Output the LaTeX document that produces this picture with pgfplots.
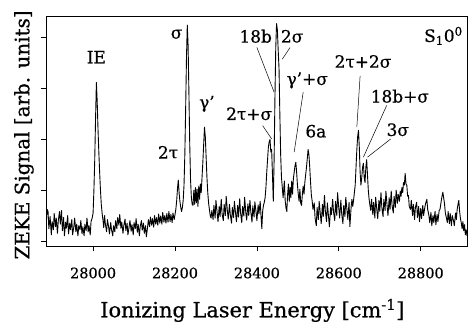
\documentclass[border=0pt]{standalone}
\usepackage{pgfplots}
\pgfplotsset{compat=1.18}
\usepackage{pgfplotstable}
\usepackage{fontspec}
\setmainfont{DejaVu Serif}[FakeBold=0.6]

% ZEKE spectrum: signal versus ionizing laser energy (cm^-1)
\pgfplotstableread{
x y
27886 0.42
27888 0.62
27890 0.58
27892 0.24
27895 0.48
27898 0.12
27900 0.38
27903 0.22
27905 0.54
27908 0.28
27910 0.45
27913 0.15
27915 0.40
27918 0.58
27920 0.33
27923 0.60
27925 0.20
27928 0.46
27930 0.10
27933 0.37
27935 0.25
27938 0.50
27940 0.14
27943 0.35
27945 0.22
27948 0.42
27950 0.12
27953 0.28
27955 0.45
27958 0.18
27960 0.33
27963 0.10
27965 0.30
27968 0.22
27970 0.40
27973 0.14
27975 0.28
27978 0.10
27980 0.33
27983 0.20
27985 0.45
27988 0.18
27990 0.30
27993 0.12
27995 0.38
27998 0.46
28000 0.55
28002 1.00
28004 1.60
28006 2.40
28008 3.12
28010 2.75
28012 2.20
28014 1.75
28016 1.35
28018 1.00
28020 0.72
28022 0.55
28024 0.42
28026 0.26
28028 0.50
28030 0.33
28033 0.18
28035 0.42
28038 0.27
28040 0.14
28043 0.36
28045 0.22
28048 0.10
28050 0.30
28053 0.18
28055 0.40
28058 0.24
28060 0.46
28063 0.31
28065 0.52
28068 0.25
28070 0.37
28073 0.15
28075 0.30
28078 0.43
28080 0.20
28083 0.35
28085 0.12
28088 0.28
28090 0.40
28093 0.19
28095 0.32
28098 0.12
28100 0.36
28103 0.24
28105 0.44
28108 0.17
28110 0.33
28113 0.10
28115 0.28
28118 0.40
28120 0.21
28123 0.35
28125 0.15
28128 0.30
28130 0.08
28133 0.27
28135 0.42
28138 0.28
28140 0.47
28143 0.31
28145 0.44
28148 0.27
28150 0.50
28153 0.33
28155 0.46
28158 0.31
28160 0.53
28163 0.35
28165 0.49
28168 0.33
28170 0.56
28173 0.37
28175 0.50
28178 0.35
28180 0.54
28183 0.37
28185 0.58
28188 0.38
28190 0.52
28193 0.36
28195 0.55
28198 0.42
28200 0.52
28202 0.62
28204 0.78
28206 1.02
28208 1.20
28210 0.95
28212 0.78
28214 0.66
28216 0.58
28218 0.66
28220 0.80
28222 1.10
28224 1.70
28226 2.60
28228 3.60
28230 4.25
28232 3.85
28234 2.90
28236 1.90
28238 1.20
28240 0.85
28242 0.72
28244 0.70
28246 1.00
28248 0.72
28250 1.05
28252 0.75
28254 1.02
28256 0.68
28258 1.08
28260 0.82
28262 1.12
28264 0.95
28266 1.25
28268 1.55
28270 1.90
28272 2.24
28274 2.05
28276 1.65
28278 1.25
28280 0.95
28282 0.75
28284 0.62
28286 0.50
28288 0.45
28290 0.60
28293 0.42
28295 0.70
28298 0.45
28300 0.80
28303 0.55
28305 0.38
28308 0.68
28310 0.48
28313 0.82
28315 0.53
28318 0.40
28320 0.72
28323 0.50
28325 0.88
28328 0.58
28330 0.43
28333 0.72
28335 0.52
28338 0.35
28340 0.66
28343 0.46
28345 0.78
28348 0.54
28350 0.38
28353 0.70
28355 0.47
28358 0.83
28360 0.56
28363 0.36
28365 0.68
28368 0.49
28370 0.86
28373 0.55
28375 0.41
28378 0.73
28380 0.50
28383 0.80
28385 0.58
28388 0.37
28390 0.69
28393 0.47
28395 0.77
28398 0.56
28400 0.40
28403 0.71
28405 0.53
28408 0.78
28410 0.50
28412 0.24
28414 0.58
28416 0.70
28418 0.76
28420 0.85
28422 1.05
28424 1.35
28426 1.60
28428 1.85
28430 1.95
28432 2.00
28434 1.75
28436 1.80
28438 1.30
28440 0.78
28442 1.60
28444 2.80
28446 3.80
28448 4.28
28450 4.15
28452 3.75
28454 3.40
28456 2.50
28458 1.70
28460 1.25
28462 1.05
28464 0.85
28467 1.18
28469 0.80
28471 0.65
28473 0.58
28475 0.92
28477 1.12
28479 0.78
28481 1.05
28483 0.85
28485 1.18
28487 0.92
28489 1.22
28491 1.35
28493 1.48
28495 1.55
28497 1.35
28499 1.10
28501 0.92
28503 0.78
28505 1.02
28507 0.74
28509 0.70
28511 0.92
28513 1.08
28515 0.92
28517 1.15
28519 1.30
28521 1.45
28523 1.62
28525 1.80
28527 1.70
28529 1.45
28531 1.15
28533 0.90
28535 0.78
28537 0.62
28540 0.75
28542 0.45
28545 0.30
28547 0.66
28550 0.42
28552 0.78
28555 0.52
28557 0.34
28560 0.72
28562 0.48
28565 0.90
28567 0.60
28570 0.38
28572 0.75
28575 0.47
28577 0.28
28580 0.66
28582 0.52
28585 0.82
28587 0.58
28590 0.40
28592 0.78
28595 0.50
28597 0.95
28600 0.64
28602 0.45
28605 0.80
28607 0.54
28610 0.34
28612 0.70
28615 0.48
28617 0.86
28620 0.60
28622 0.42
28625 0.76
28627 0.28
28630 0.66
28632 0.82
28634 0.68
28636 0.80
28638 0.95
28640 1.10
28642 1.45
28644 1.80
28646 2.05
28648 2.18
28650 1.85
28652 1.35
28654 1.10
28656 1.25
28658 1.45
28660 1.53
28662 1.25
28664 1.15
28666 1.45
28668 1.60
28670 1.30
28672 1.00
28674 0.82
28676 0.70
28678 0.60
28680 0.82
28683 0.52
28685 0.76
28688 0.45
28690 0.86
28693 0.60
28695 0.44
28698 0.80
28700 0.58
28703 0.95
28705 0.66
28708 0.48
28710 0.82
28713 0.60
28715 0.98
28718 0.68
28720 0.50
28723 0.85
28725 0.62
28728 0.98
28730 0.70
28733 0.55
28735 0.88
28738 0.66
28740 1.00
28743 0.74
28745 0.92
28748 0.78
28750 0.98
28752 0.88
28754 1.05
28756 0.95
28758 1.15
28760 1.10
28762 1.33
28764 1.12
28766 1.10
28768 0.88
28770 0.90
28772 0.68
28775 0.62
28777 0.80
28780 0.50
28782 0.72
28785 0.42
28787 0.66
28790 0.76
28792 0.46
28795 0.68
28797 0.38
28800 0.64
28802 0.44
28805 0.70
28807 0.50
28810 0.66
28812 0.74
28815 0.82
28817 0.62
28820 0.50
28822 0.36
28825 0.56
28827 0.30
28830 0.50
28832 0.36
28835 0.58
28837 0.32
28840 0.52
28842 0.38
28845 0.60
28847 0.62
28850 0.78
28852 0.88
28854 0.96
28856 0.85
28858 0.74
28860 0.56
28862 0.48
28865 0.36
28867 0.58
28870 0.34
28872 0.54
28875 0.30
28877 0.50
28880 0.40
28882 0.30
28885 0.55
28887 0.42
28889 0.62
28891 0.72
28893 0.80
28895 0.58
28897 0.44
28899 0.36
28901 0.24
28903 0.38
28905 0.20
28907 0.32
28909 0.12
28911 0.22
28913 0.10
}\zekedata

\begin{document}
\begin{tikzpicture}
\begin{axis}[
  scale only axis,
  width=421bp, height=230bp,
  xmin=27885, xmax=28913,
  ymin=-0.1, ymax=4.43,
  axis line style={line width=0.8pt},
  xtick={28000,28200,28400,28600,28800},
  scaled x ticks=false,
  ytick={0,1,2,3,4},
  yticklabels={},
  tick align=outside,
  xtick pos=bottom, ytick pos=left,
  major tick length=5bp,
  tick style={line width=0.7pt, black},
  /pgf/number format/assume math mode=true,
  /pgf/number format/1000 sep={},
  xticklabel style={font=\fontsize{14.5}{16}\selectfont, yshift=-13bp},
  xlabel={Ionizing Laser Energy [cm\textsuperscript{-1}]},
  xlabel style={at={(axis description cs:0.49,-0.28)}, anchor=center,
                font=\fontsize{21}{24}\selectfont},
  ylabel={ZEKE Signal [arb. units]},
  ylabel style={at={(axis description cs:-0.0523,0.483)}, anchor=center,
                font=\fontsize{20}{22}\selectfont},
]
\addplot[black, line width=0.9pt, line join=round] table[x=x, y=y] {\zekedata};

% band assignments
\begin{scope}[font=\fontsize{17}{19}\selectfont]
\node at (axis cs:28008,3.62) {IE};
\node at (axis cs:28204,4.07) {σ};
\node at (axis cs:28183,1.74) {2τ};
\node at (axis cs:28278,2.70) {γ'};
\node at (axis cs:28381,2.50) {2τ+σ};
\node at (axis cs:28397,4.03) {18b};
\node at (axis cs:28486,4.03) {2σ};
\node at (axis cs:28523,3.16) {γ'+σ};
\node at (axis cs:28544,2.16) {6a};
\node at (axis cs:28659,3.53) {2τ+2σ};
\node at (axis cs:28749,2.85) {18b+σ};
\node at (axis cs:28744,2.19) {3σ};
\node[anchor=east] at (axis cs:28911,4.04) {S\textsubscript{1}0\textsuperscript{0}};
\end{scope}

% leader lines
\begin{scope}[line width=0.5pt]
\draw (axis cs:28414,2.27) -- (axis cs:28436,2.01);
\draw (axis cs:28400,3.81) -- (axis cs:28442,2.93);
\draw (axis cs:28481,3.81) -- (axis cs:28462,3.58);
\draw (axis cs:28513,2.93) -- (axis cs:28491,1.75);
\draw (axis cs:28652,3.25) -- (axis cs:28644,2.24);
\draw (axis cs:28717,2.67) -- (axis cs:28660,1.65);
\draw (axis cs:28727,2.01) -- (axis cs:28670,1.65);
\end{scope}
\end{axis}
\pgfresetboundingbox
\path (current axis.south west) ++(-46bp,-76bp) -- (current axis.north east) ++(1bp,16bp);
\end{tikzpicture}
\end{document}
